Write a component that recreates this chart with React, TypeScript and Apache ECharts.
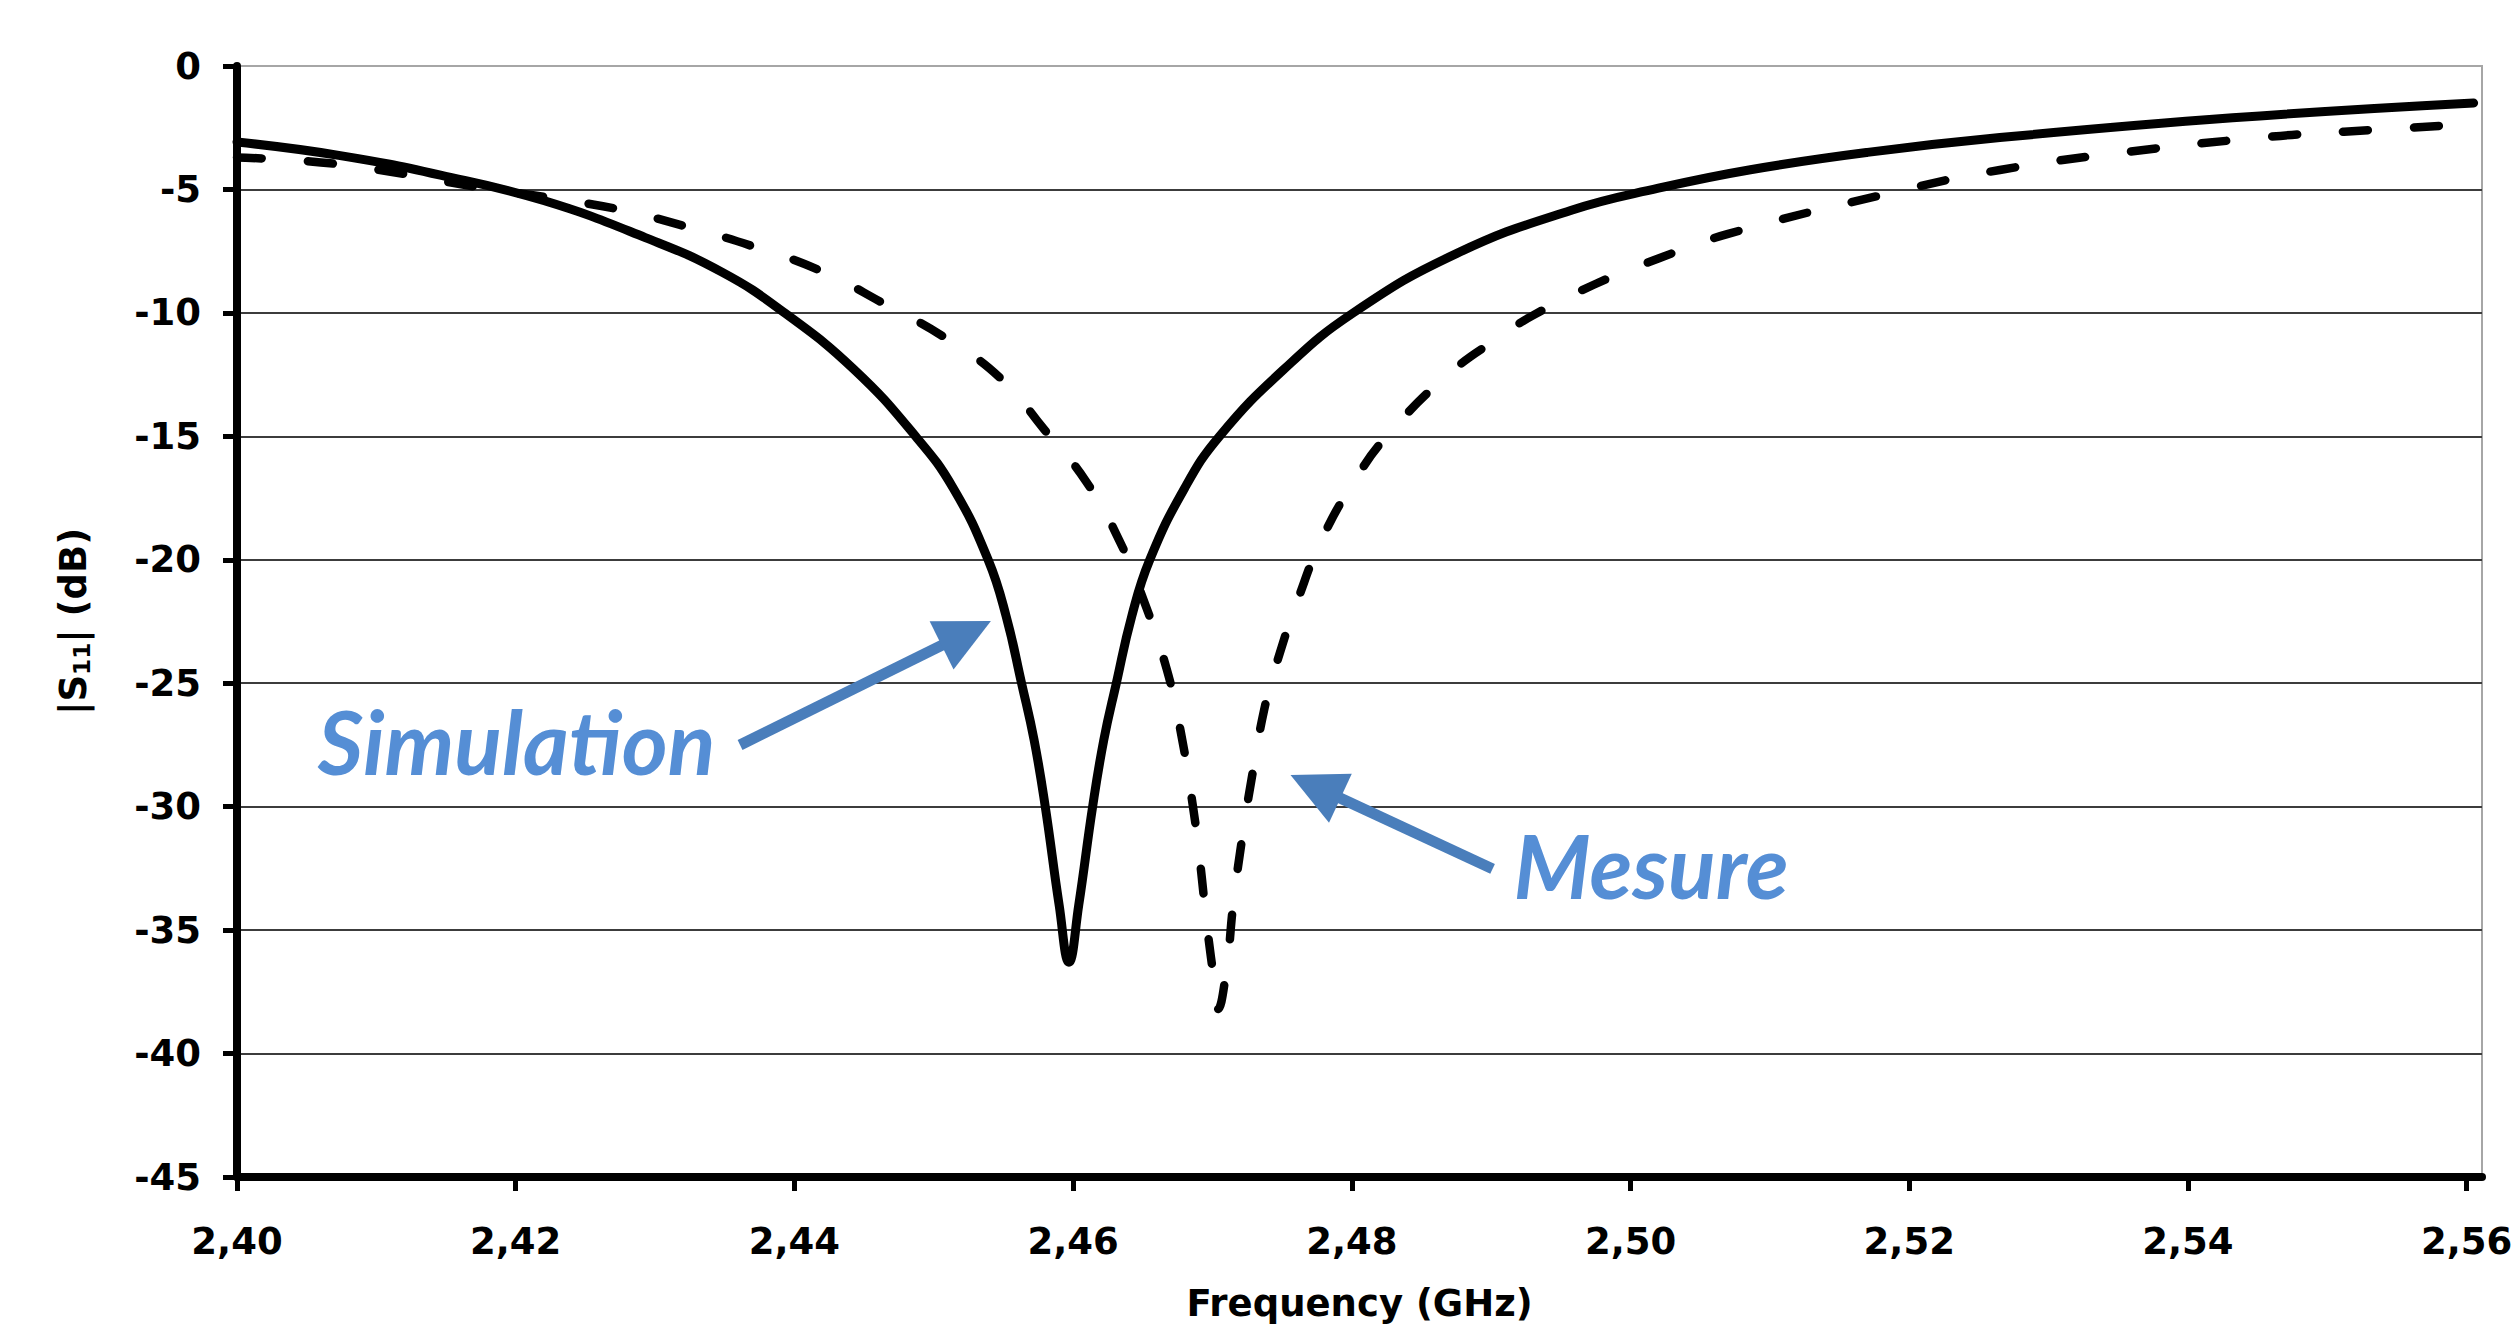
import React, { useEffect, useRef } from "react";
import * as echarts from "echarts";

// ---- Data ----
const simFreq = [
  2.4, 2.4073, 2.4146, 2.422, 2.4293, 2.4348, 2.4393, 2.4443, 2.4487, 2.4514,
  2.4539, 2.4552, 2.4563, 2.4572, 2.458, 2.459, 2.4597, 2.4604, 2.4614, 2.4622,
  2.4631, 2.4642, 2.4655, 2.468, 2.4705, 2.4751, 2.4801, 2.4875, 2.4957, 2.502,
  2.5086, 2.517, 2.5265, 2.5432, 2.5605,
];
const simDb = [
  -3.08, -3.62, -4.42, -5.45, -6.95, -8.35, -10.0, -12.3, -15.0, -17.1,
  -20.0, -22.3, -25.0, -27.3, -30.0, -34.0, -36.3, -34.0, -30.0, -27.3,
  -25.0, -22.3, -20.0, -17.1, -15.0, -12.3, -10.0, -7.6, -5.85, -4.95,
  -4.2, -3.5, -2.9, -2.1, -1.5,
];

const mesFreq = [
  2.4, 2.4073, 2.4183, 2.422, 2.4275, 2.4322, 2.437, 2.4419, 2.4465, 2.4508,
  2.4549, 2.4579, 2.4609, 2.4633, 2.4651, 2.4667, 2.4677, 2.4686, 2.4691, 2.4696,
  2.4702, 2.4704, 2.471, 2.4715, 2.4722, 2.4728, 2.4737, 2.4746, 2.4762, 2.4779,
  2.4803, 2.4825, 2.4869, 2.4908, 2.493, 2.4974, 2.502, 2.507, 2.519, 2.5265,
  2.5358, 2.546, 2.5512, 2.5605,
];
const mesDb = [
  -3.71, -3.98, -5.0, -5.3, -5.82, -6.5, -7.3, -8.3, -9.65, -11.0,
  -12.7, -14.7, -16.8, -19.2, -21.7, -24.4, -26.9, -30.0, -32.2, -34.8,
  -37.4, -38.2, -36.6, -33.9, -31.0, -28.9, -26.1, -24.2, -21.5, -19.1,
  -16.7, -15.0, -12.5, -10.9, -10.1, -8.85, -7.8, -6.8, -5.1, -4.21,
  -3.47, -2.86, -2.66, -2.35,
];

const xTicks = [2.4, 2.42, 2.44, 2.46, 2.48, 2.5, 2.52, 2.54, 2.56];
const yMin = -45;
const yMax = 0;
const yStep = 5;
const xMin = 2.4;
const xMax = 2.5611;

// annotation anchors in data units [GHz, dB]
const simLabel = { text: "Simulation", at: [2.4058, -28.72] };
const simArrow = { tail: [2.4361, -27.5], tip: [2.4541, -22.48] };
const mesLabel = { text: "Mesure", at: [2.4916, -33.74] };
const mesArrow = { tail: [2.4901, -32.52], tip: [2.4756, -28.72] };

const AXIS_FONT = "DejaVu Sans";
const ANNOT_BLUE = "#558ED5";
const ARROW_BLUE = "#4A7EBB";
const ANNOT_SIZE = 88;

function arrowShapes(p0: number[], p1: number[]) {
  const dx = p1[0] - p0[0];
  const dy = p1[1] - p0[1];
  const len = Math.sqrt(dx * dx + dy * dy);
  const ux = dx / len;
  const uy = dy / len;
  const headLen = 55;
  const headHalf = 27;
  const bx = p1[0] - ux * headLen;
  const by = p1[1] - uy * headLen;
  const px = -uy;
  const py = ux;
  return [
    {
      type: "line",
      shape: { x1: p0[0], y1: p0[1], x2: bx + ux * 4, y2: by + uy * 4 },
      style: { stroke: ARROW_BLUE, lineWidth: 11 },
      z: 10,
    },
    {
      type: "polygon",
      shape: {
        points: [
          [p1[0], p1[1]],
          [bx + px * headHalf, by + py * headHalf],
          [bx - px * headHalf, by - py * headHalf],
        ],
      },
      style: { fill: ARROW_BLUE },
      z: 10,
    },
  ];
}

export default function App() {
  const ref = useRef<HTMLDivElement>(null);

  useEffect(() => {
    if (!ref.current) return;
    const chart = echarts.init(ref.current, undefined, { renderer: "svg" });

    const labelStyle = {
      fontFamily: AXIS_FONT,
      fontWeight: "bold" as const,
      fontSize: 37,
      color: "#000",
    };

    chart.setOption({
      animation: false,
      backgroundColor: "#ffffff",
      grid: {
        left: 237,
        right: 35,
        top: 66,
        bottom: 153,
        containLabel: false,
        outerBoundsMode: "none",
        show: true,
        borderColor: "#a6a6a6",
        borderWidth: 2,
        backgroundColor: "transparent",
      },
      xAxis: {
        type: "value",
        min: xMin,
        max: xMax,
        interval: 0.02,
        axisLine: { show: true, onZero: false, lineStyle: { color: "#000", width: 8 } },
        axisTick: {
          show: true,
          length: 14,
          customValues: xTicks,
          lineStyle: { color: "#000", width: 5 },
        },
        axisLabel: {
          ...labelStyle,
          customValues: xTicks,
          margin: 46,
          formatter: (v: number) => v.toFixed(2).replace(".", ","),
        },
        splitLine: { show: false },
        name: "Frequency (GHz)",
        nameLocation: "middle",
        nameGap: 108,
        nameTextStyle: { ...labelStyle, fontSize: 37 },
      },
      yAxis: {
        type: "value",
        min: yMin,
        max: yMax,
        interval: yStep,
        axisLine: { show: true, onZero: false, lineStyle: { color: "#000", width: 8 } },
        axisTick: { show: true, length: 14, lineStyle: { color: "#000", width: 5 } },
        axisLabel: {
          ...labelStyle,
          margin: 36,
          formatter: (v: number) => String(v),
        },
        splitLine: {
          show: true,
          showMaxLine: false,
          lineStyle: { color: "#3c3c3c", width: 2 },
        },
        name: "{a||S}{b|11}{a|| (dB)}",
        nameLocation: "middle",
        nameGap: 144,
        nameRotate: 90,
        nameTextStyle: {
          rich: {
            a: { fontFamily: AXIS_FONT, fontWeight: "bold", fontSize: 37, color: "#000", lineHeight: 40 },
            b: {
              fontFamily: AXIS_FONT,
              fontWeight: "bold",
              fontSize: 23,
              color: "#000",
              lineHeight: 23,
              verticalAlign: "bottom",
            },
          },
        },
      },
      series: [
        {
          name: "Simulation",
          type: "line",
          data: simFreq.map((f, i) => [f, simDb[i]]),
          symbol: "none",
          showSymbol: false,
          smooth: 0.45,
          silent: true,
          lineStyle: { color: "#000", width: 9, cap: "round", join: "round" },
          z: 3,
        },
        {
          name: "Mesure",
          type: "line",
          data: mesFreq.map((f, i) => [f, mesDb[i]]),
          symbol: "none",
          showSymbol: false,
          smooth: 0.45,
          silent: true,
          lineStyle: { color: "#000", width: 8.5, type: [25, 46], cap: "round", join: "round" },
          z: 3,
        },
      ],
    });

    const px = (p: number[]) => chart.convertToPixel({ gridIndex: 0 }, p) as number[];
    const simT = px(simLabel.at);
    const mesT = px(mesLabel.at);
    const yShift = ANNOT_SIZE * 0.387;
    const textStyle = (text: string) => ({
      text,
      fill: ANNOT_BLUE,
      font: `italic bold ${ANNOT_SIZE}px Lato`,
      textAlign: "left",
      textVerticalAlign: "middle",
    });
    const graphic: any[] = [
      ...arrowShapes(px(simArrow.tail), px(simArrow.tip)),
      ...arrowShapes(px(mesArrow.tail), px(mesArrow.tip)),
      { type: "text", x: simT[0], y: simT[1] - yShift, z: 11, style: textStyle(simLabel.text) },
      { type: "text", x: mesT[0], y: mesT[1] - yShift, z: 11, style: textStyle(mesLabel.text) },
    ];
    chart.setOption({ graphic });

    return () => chart.dispose();
  }, []);

  return (
    <div
      ref={ref}
      style={{
        position: "fixed",
        left: 0,
        top: 0,
        width: "2517px",
        height: "1330px",
        background: "#fff",
      }}
    />
  );
}
